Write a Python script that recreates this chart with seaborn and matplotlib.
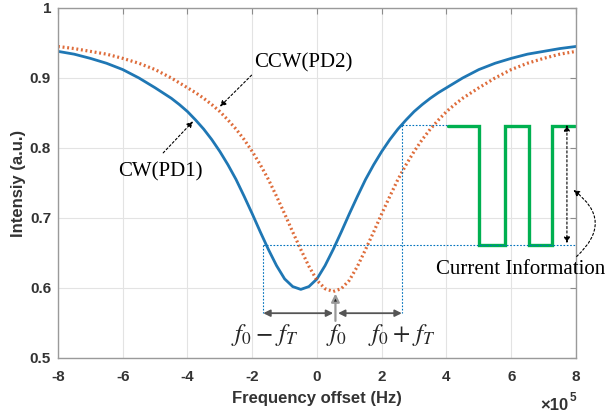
import numpy as np
import pandas as pd
import seaborn as sns
import matplotlib.pyplot as plt

# frequency offset (x 1e5 Hz)
freq = [-8, -7.5, -7, -6.5, -6, -5.5, -5,
        -4.5, -4.25, -4, -3.75, -3.5, -3.25, -3, -2.75, -2.5, -2.25, -2, -1.75,
        -1.5, -1.25, -1, -0.75, -0.5, -0.25, 0, 0.25, 0.5, 0.75, 1, 1.25, 1.5,
        1.75, 2, 2.25, 2.5, 2.75, 3, 3.25, 3.5, 3.75, 4, 4.25, 4.5,
        5, 5.5, 6, 6.5, 7, 7.5, 8]

cw = [0.938, 0.934, 0.928, 0.921, 0.912, 0.900, 0.886,
      0.871, 0.862, 0.852, 0.840, 0.827, 0.812, 0.795, 0.776, 0.755, 0.731,
      0.706, 0.680, 0.655, 0.632, 0.613, 0.602, 0.598, 0.602, 0.613, 0.632,
      0.655, 0.680, 0.706, 0.731, 0.755, 0.776, 0.795, 0.812, 0.827, 0.840,
      0.852, 0.862, 0.871, 0.879, 0.886, 0.893, 0.900,
      0.912, 0.921, 0.928, 0.934, 0.938, 0.942, 0.945]

ccw = [0.945, 0.942, 0.938, 0.934, 0.928, 0.921, 0.912,
       0.900, 0.893, 0.886, 0.879, 0.871, 0.862, 0.852, 0.840, 0.827, 0.812,
       0.795, 0.776, 0.755, 0.731, 0.706, 0.680, 0.655, 0.631, 0.611, 0.599,
       0.595, 0.599, 0.611, 0.631, 0.655, 0.680, 0.706, 0.731, 0.755, 0.776,
       0.795, 0.812, 0.827, 0.840, 0.852, 0.862, 0.871,
       0.886, 0.900, 0.912, 0.921, 0.928, 0.934, 0.938]

# current information square wave
wave_x = [4.05, 5.0, 5.0, 5.8, 5.8, 6.55, 6.55, 7.25, 7.25, 7.97]
wave_y = [0.832, 0.832, 0.662, 0.662, 0.832, 0.832, 0.662, 0.662, 0.832, 0.832]

x_ticks = [-8, -6, -4, -2, 0, 2, 4, 6, 8]
y_ticks = [0.5, 0.6, 0.7, 0.8, 0.9, 1]
y_ticklabels = ["0.5", "0.6", "0.7", "0.8", "0.9", "1"]

f_lo, f_0, f_hi = -1.66, 0.55, 2.62
i_hi, i_lo, i_arrow = 0.833, 0.661, 0.564

df = pd.DataFrame({"freq": freq, "cw": cw, "ccw": ccw})

sns.set_style("white")
plt.rcParams["font.family"] = ["Liberation Sans", "DejaVu Sans"]
plt.rcParams["axes.unicode_minus"] = False
plt.rcParams["mathtext.fontset"] = "stix"

fig = plt.figure(figsize=(6.09, 4.19), dpi=100)
ax = fig.add_axes([0.0952, 0.1456, 0.8506, 0.8354])

sns.lineplot(data=df, x="freq", y="cw", color="#1f77b4", lw=2.0, ax=ax)
sns.lineplot(data=df, x="freq", y="ccw", color="#d95319", lw=2.3,
             linestyle=(0, (0.6, 0.85)), alpha=0.85, ax=ax)
ax.plot(wave_x, wave_y, color="#00b050", lw=2.4, solid_joinstyle="miter")

# guide lines
guide = dict(color="#0072bd", lw=0.8, ls=(0, (1.5, 1.5)))
ax.plot([f_lo, 8], [i_lo, i_lo], **guide)
ax.plot([f_hi, wave_x[0]], [i_hi, i_hi], **guide)
ax.plot([f_lo, f_lo], [i_lo, i_arrow], **guide)
ax.plot([f_hi, f_hi], [i_hi, i_arrow], **guide)

# frequency span arrows
aprops = dict(arrowstyle="<|-|>", color="#555555", lw=1.3, mutation_scale=10,
              shrinkA=0, shrinkB=0)
ax.annotate("", xy=(f_lo, i_arrow), xytext=(f_0 - 0.05, i_arrow), arrowprops=aprops)
ax.annotate("", xy=(f_hi, i_arrow), xytext=(f_0 + 0.1, i_arrow), arrowprops=aprops)
ax.annotate("", xy=(f_0 + 0.02, 0.592), xytext=(f_0 + 0.02, 0.553),
            arrowprops=dict(arrowstyle="-|>", color="#222222", ec="#999999",
                            lw=1.6, mutation_scale=12, shrinkA=0, shrinkB=0))

serif = dict(family="Liberation Serif", fontsize=15, color="black")
math = dict(fontsize=18, ha="center", va="center")
ax.text(-1.61, 0.533, r"$f_0 - \,f_T$", **math)
ax.text(0.61, 0.533, r"$f_0$", **math)
ax.text(2.62, 0.533, r"$f_0 + \,f_T$", **math)

# curve labels
ax.text(-4.85, 0.766, "CW(PD1)", ha="center", va="center", **serif)
ax.text(-0.43, 0.921, "CCW(PD2)", ha="center", va="center", **serif)
lprops = dict(arrowstyle="-|>", color="black", lw=0.8, ls=(0, (2, 2)),
              mutation_scale=9, shrinkA=0, shrinkB=0)
ax.annotate("", xy=(-3.83, 0.838), xytext=(-4.75, 0.793), arrowprops=lprops)
ax.annotate("", xy=(-3.0, 0.859), xytext=(-2.02, 0.904), arrowprops=lprops)

ax.text(6.30, 0.627, "Current Information", ha="center", va="center", **serif)
ax.annotate("", xy=(7.72, 0.833), xytext=(7.72, 0.664),
            arrowprops=dict(arrowstyle="<|-|>", color="black", lw=0.8,
                            ls=(0, (2, 2)), mutation_scale=9, shrinkA=0, shrinkB=0))
ax.annotate("", xy=(7.92, 0.74), xytext=(8.02, 0.645),
            arrowprops=dict(arrowstyle="-|>", color="black", lw=0.8,
                            ls=(0, (2, 2)), mutation_scale=9, shrinkA=0, shrinkB=0,
                            connectionstyle="arc3,rad=0.6"),
            annotation_clip=False)

ax.set_xlim(-8, 8)
ax.set_ylim(0.5, 1)
ax.set_xticks(x_ticks, labels=[str(t) for t in x_ticks], fontweight="bold")
ax.set_yticks(y_ticks, labels=y_ticklabels, fontweight="bold")
ax.grid(True, color="#e3e3e3", lw=0.8)
ax.tick_params(direction="in", length=4, width=0.8, color="#8c8c8c",
               top=True, right=True, labelsize=11, labelcolor="#333333")
ax.tick_params(axis="x", pad=9)
ax.tick_params(axis="y", pad=5)
for side in ax.spines:
    ax.spines[side].set_color("#9a9a9a")
    ax.spines[side].set_linewidth(1.0)

ax.set_xlabel("Frequency offset (Hz)", fontsize=12, fontweight="bold",
              color="#333333", labelpad=5)
ax.set_ylabel("Intensiy (a.u.)", fontsize=12, fontweight="bold",
              color="#333333", labelpad=3)
ax.text(0.985, -0.135, "\u00d710", transform=ax.transAxes, fontweight="bold",
        ha="right", va="center", fontsize=12, color="#333333")
ax.text(0.987, -0.115, "5", transform=ax.transAxes, fontweight="bold",
        ha="left", va="center", fontsize=8.5, color="#333333")

fig.savefig("out.png", dpi=100)
